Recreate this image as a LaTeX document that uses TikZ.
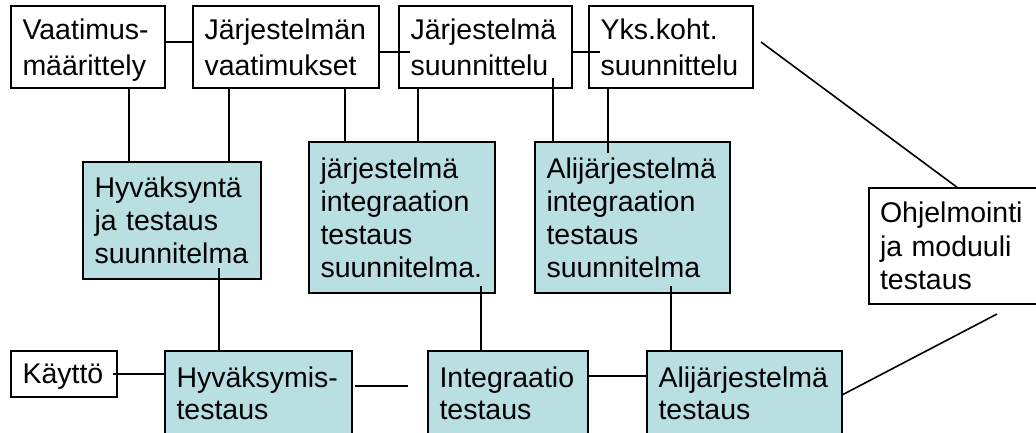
\documentclass[tikz,border=0pt]{standalone}
\usepackage{fontspec}
\setmainfont{Liberation Sans}
\definecolor{boxfill}{RGB}{185,223,227}
\newcommand{\nodepth}[1]{\raisebox{0pt}[\height][0pt]{#1}}
\begin{document}
\begin{tikzpicture}[x=1pt,y=-1pt,
  box/.style={draw=black, line width=1.8pt, rectangle, anchor=north west, align=left,
    inner xsep=11.5pt, inner ysep=0pt, outer sep=0pt, font=\fontsize{28.5}{36}\selectfont},
  plan/.style={box, fill=boxfill, font=\fontsize{28.5}{33}\selectfont},
  lowplan/.style={box, fill=boxfill, font=\fontsize{28.5}{32}\selectfont},
  link/.style={draw=black, line width=1.8pt}]
\useasboundingbox (0,0) rectangle (1036,432);

% top row
\node[box, text width=131pt, minimum height=82pt] (A) at (11,6) {Vaatimus-\\\nodepth{määrittely}};
\node[box, text width=163pt, minimum height=82pt] (B) at (193,6) {Järjestelmän\\vaatimukset};
\node[box, text width=150pt, minimum height=82pt] (C) at (399,6) {Järjestelmä\\suunnittelu};
\node[box, text width=141pt, minimum height=82pt] (D) at (589,6) {Yks.koht.\\suunnittelu};

% middle row
\node[plan, text width=155pt, minimum height=117pt] (E) at (83,162) {Hyväksyntä\\ja testaus\\suunnitelma};
\node[plan, text width=163pt, minimum height=151pt] (F) at (309,142) {järjestelmä\\integraation\\testaus\\suunnitelma.};
\node[plan, text width=172pt, minimum height=151pt] (G) at (535,142) {Alijärjestelmä\\integraation\\testaus\\suunnitelma};
\node[box, inner xsep=11pt, text width=154pt, minimum height=116pt, font=\fontsize{28.5}{33.5}\selectfont] (H) at (869,188) {Ohjelmointi\\ja moduuli\\testaus};

% bottom row
\node[box, text width=83pt, minimum height=46pt] (I) at (11,351) {\nodepth{Käyttö}};
\node[lowplan, text width=164pt, minimum height=84pt] (J) at (165,351) {Hyväksymis-\\testaus};
\node[lowplan, text width=137pt, minimum height=84pt] (K) at (428,351) {Integraatio\\testaus};
\node[lowplan, text width=172pt, minimum height=84pt] (L) at (647,351) {Alijärjestelmä\\testaus};

% horizontal connectors, top row
\draw[link] ([yshift=5pt]A.east) -- ([yshift=5pt]A.east -| B.west);
\draw[link] ([yshift=-5pt]B.east) -- ([xshift=11pt,yshift=-5pt]B.east -| C.west);
\draw[link] ([yshift=-5pt]C.east) -- ([xshift=11pt,yshift=-5pt]C.east -| D.west);

% verticals top -> middle
\draw[link] ([xshift=41pt]A.south) -- ([xshift=41pt]A.south |- E.north);
\draw[link] ([xshift=-57pt]B.south) -- ([xshift=-57pt]B.south |- E.north);
\draw[link] ([xshift=59pt]B.south) -- ([xshift=59pt]B.south |- F.north);
\draw[link] ([xshift=-67.5pt]C.south) -- ([xshift=-67.5pt]C.south |- F.north);
\draw[link] ([xshift=67.5pt,yshift=10pt]C.south) -- ([xshift=67.5pt]C.south |- G.north);
\draw[link] ([xshift=-63pt]D.south) -- ([xshift=-63pt,yshift=-11pt]D.south |- G.north);

% verticals middle -> bottom
\draw[link] ([xshift=47pt,yshift=11pt]E.south) -- ([xshift=47pt]E.south |- J.north);
\draw[link] ([xshift=79pt,yshift=7pt]F.south) -- ([xshift=79pt]F.south |- K.north);
\draw[link] ([xshift=38.5pt,yshift=7pt]G.south) -- ([xshift=38.5pt]G.south |- L.north);

% bottom row connectors
\draw[link] ([xshift=-4pt]I.east) -- (I.east -| J.west);
\draw[link] ([xshift=3pt,yshift=7pt]J.east) -- ([xshift=-20pt,yshift=7pt]J.east -| K.west);
\draw[link] ([yshift=17pt]K.east) -- ([yshift=17pt]K.east -| L.west);

% diagonals
\draw[link, line width=1.6pt] ([xshift=8pt,yshift=5pt]D.east) -- ([xshift=89pt]H.north west);
\draw[link, line width=1.6pt] ([yshift=-2pt]L.east) -- ([xshift=128pt,yshift=-10pt]H.south west);
\end{tikzpicture}
\end{document}
